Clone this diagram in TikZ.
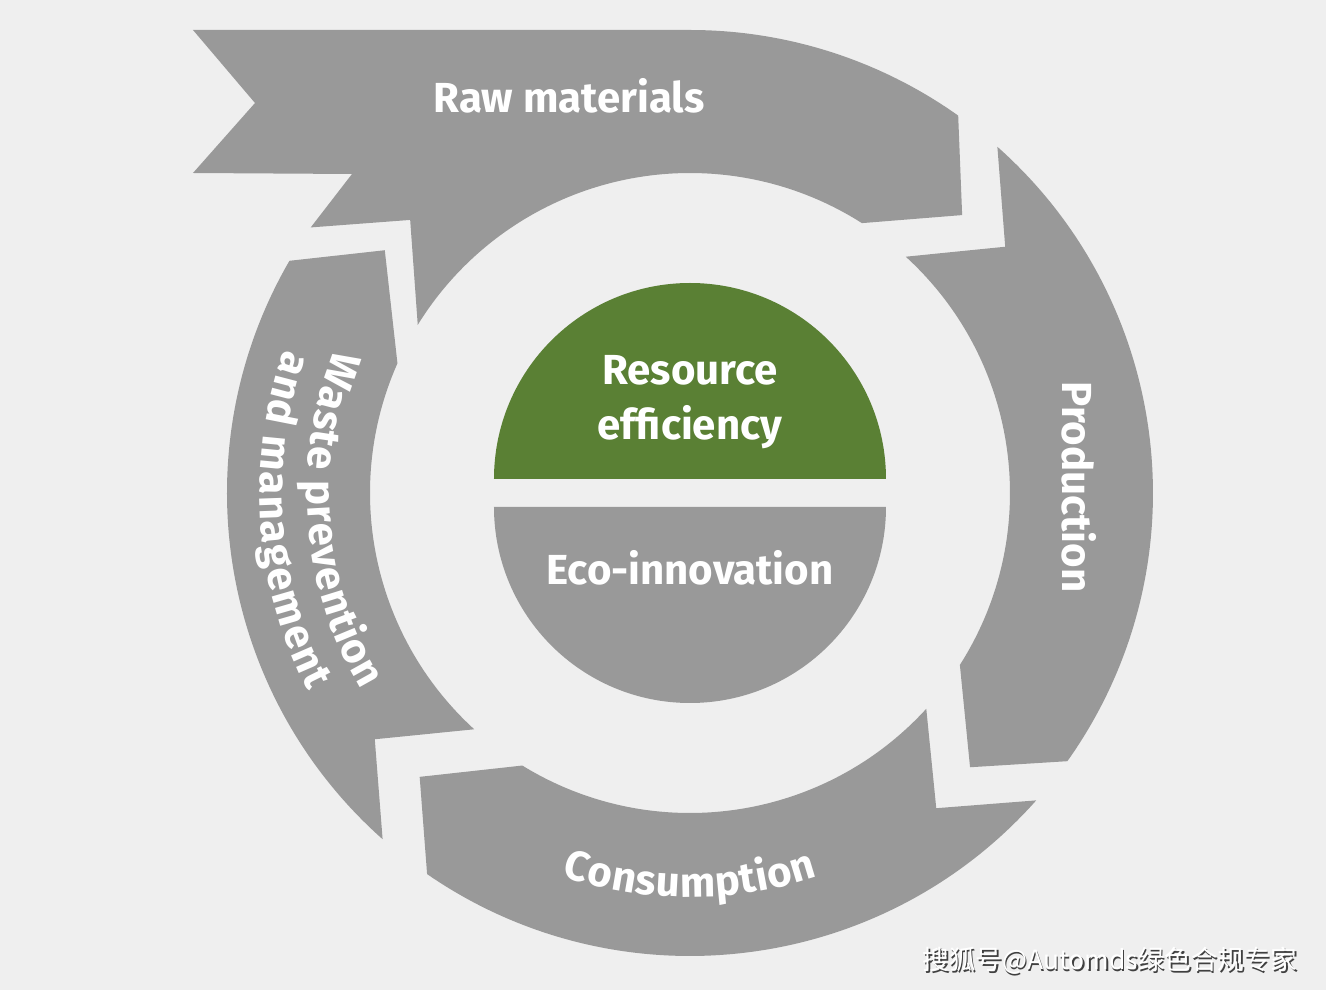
\documentclass[tikz,border=0pt]{standalone}
\usepackage{fontspec}
\setmainfont{Fira Sans}
\newfontfamily\cjkfont{Noto Sans CJK SC}
\usetikzlibrary{decorations.text}
\definecolor{bgcol}{HTML}{EFEFEF}
\definecolor{segray}{HTML}{999999}
\definecolor{leaf}{HTML}{5A8034}
\newcommand\segfont{\bfseries\fontsize{42}{50}\selectfont}
\newcommand\wmfont{\cjkfont\fontsize{26.5}{30}\selectfont}
\begin{document}
\begin{tikzpicture}[x=1pt,y=1pt,
  seg/.style={fill=segray},
  lbl/.style={text=white, font=\segfont, inner sep=0pt},
  arctext/.style={decorate, decoration={text along path, text={|\segfont|#1}, text align=center, text color=white}}]
\fill[bgcol] (-690,-497) rectangle (636,493);
\useasboundingbox (-690,-497) rectangle (636,493);

% Raw materials
\fill[seg] (-497,463) -- (0,463) arc[start angle=90, end angle=54.6, radius=463]
  -- (45.6:389) -- (57.5:320) arc[start angle=57.5, end angle=148.3, radius=320]
  -- (135.7:391) -- (145:463) -- (-338,319) -- (-497,320) -- (-435,390) -- cycle;
% Production
\fill[seg] (48.4:463) arc[start angle=48.4, end angle=-35.4, radius=463]
  -- (-44.4:392) -- (-32.5:320) arc[start angle=-32.5, end angle=47.6, radius=320]
  -- (38:400) -- cycle;
% Consumption
\fill[seg] (-41.6:463) arc[start angle=-41.6, end angle=-124.6, radius=463]
  -- (-133.6:392) -- (-121.6:320) arc[start angle=-121.6, end angle=-42.4, radius=320]
  -- (-52:400) -- cycle;
% Waste
\fill[seg] (-131.6:463) arc[start angle=-131.6, end angle=-210.1, radius=463]
  -- (-218.5:390) -- (-203.9:320) arc[start angle=-203.9, end angle=-132.4, radius=320]
  -- (-142:400) -- cycle;

% centre
\fill[leaf] (196,14) arc[start angle=0, end angle=180, radius=196] -- cycle;
\fill[segray] (-196,-14) arc[start angle=180, end angle=360, radius=196] -- cycle;

% labels
\node[lbl, anchor=base] (raw) at (-121,380) {Raw materials};
\node[lbl, anchor=base, rotate=-90] (prod) at (372,6) {Production};
\path[arctext=Consumption, decoration={raise=-10pt}] (-150:394) arc[start angle=-150, end angle=-30, radius=394];
\path[arctext=Waste prevention, decoration={raise=-17pt}] (114.5:366) arc[start angle=114.5, end angle=254.5, radius=366];
\path[arctext=and management, decoration={raise=-24pt}] (114:406) arc[start angle=114, end angle=254, radius=406];

\node[lbl, anchor=base] (res) at (0,108) {Resource};
\node[lbl, anchor=base] (eff) at (0,53) {efficiency};
\node[lbl, anchor=base] (eco) at (0,-92) {Eco-innovation};

% watermark
\node[font=\wmfont, text=black!75, inner sep=0pt] (wmshadow) at (421.5,-469.5) {搜狐号@Automds绿色合规专家};
\node[font=\wmfont, text=white, inner sep=0pt] (wm) at (420,-468) {搜狐号@Automds绿色合规专家};
\end{tikzpicture}
\end{document}
